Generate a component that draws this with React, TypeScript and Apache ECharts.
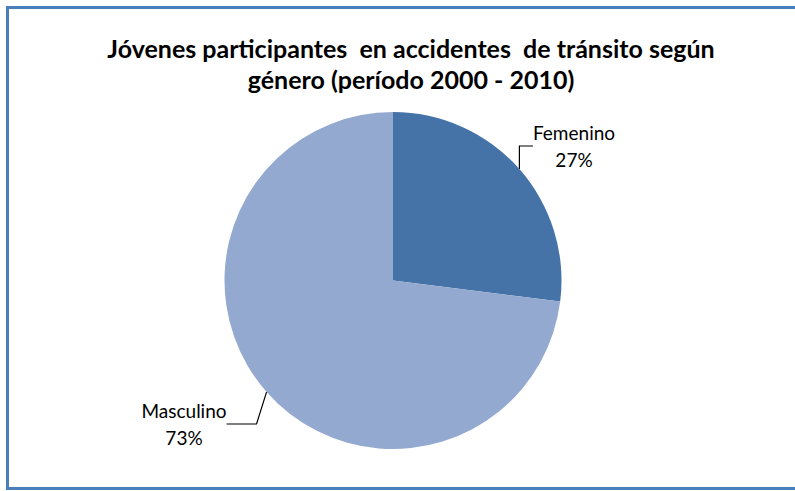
import React, { useEffect, useRef } from "react";
import * as echarts from "echarts";

const titleLines = ["Jóvenes participantes  en accidentes  de tránsito según", "género (período 2000 - 2010)"];
const categories = ["Femenino", "Masculino"];
const values = [27, 73];
const colors = ["#4573A7", "#93A9D0"];
const labelAnchors = [
  [574, 146],
  [184, 424],
];

export default function App() {
  const ref = useRef<HTMLDivElement>(null);
  useEffect(() => {
    if (!ref.current) return;
    const chart = echarts.init(ref.current, undefined, { renderer: "svg" });
    chart.setOption({
      animation: false,
      backgroundColor: "#ffffff",
      title: {
        text: titleLines.join("\n"),
        left: 406,
        top: 27,
        textAlign: "center",
        textStyle: {
          fontFamily: "Lato",
          fontWeight: "bold",
          fontSize: 25,
          lineHeight: 31,
          color: "#000000",
        },
      },
      graphic: [
        {
          type: "rect",
          shape: { x: 7.5, y: 7.5, width: 800, height: 481 },
          style: { fill: "none", stroke: "#4A7EBB", lineWidth: 3 },
          silent: true,
        },
      ],
      series: [
        {
          type: "pie",
          center: [393, 280.5],
          radius: [0, 168.5],
          startAngle: 90,
          clockwise: true,
          data: categories.map((c, i) => ({
            name: c,
            value: values[i],
            itemStyle: { color: colors[i] },
          })),
          label: {
            show: true,
            formatter: "{b}\n{d}%",
            fontFamily: "Lato",
            fontSize: 19,
            lineHeight: 27,
            color: "#000000",
            align: "center",
          },
          labelLine: {
            show: true,
            lineStyle: { color: "#000000", width: 1.2 },
          },
          labelLayout: (params: any) => {
            const a = labelAnchors[params.dataIndex];
            return { x: a[0], y: a[1], align: "center", verticalAlign: "middle" };
          },
        },
      ],
    });
    return () => chart.dispose();
  }, []);
  return (
    <div
      ref={ref}
      style={{ position: "fixed", left: 0, top: 0, width: 795, height: 491 }}
    />
  );
}
